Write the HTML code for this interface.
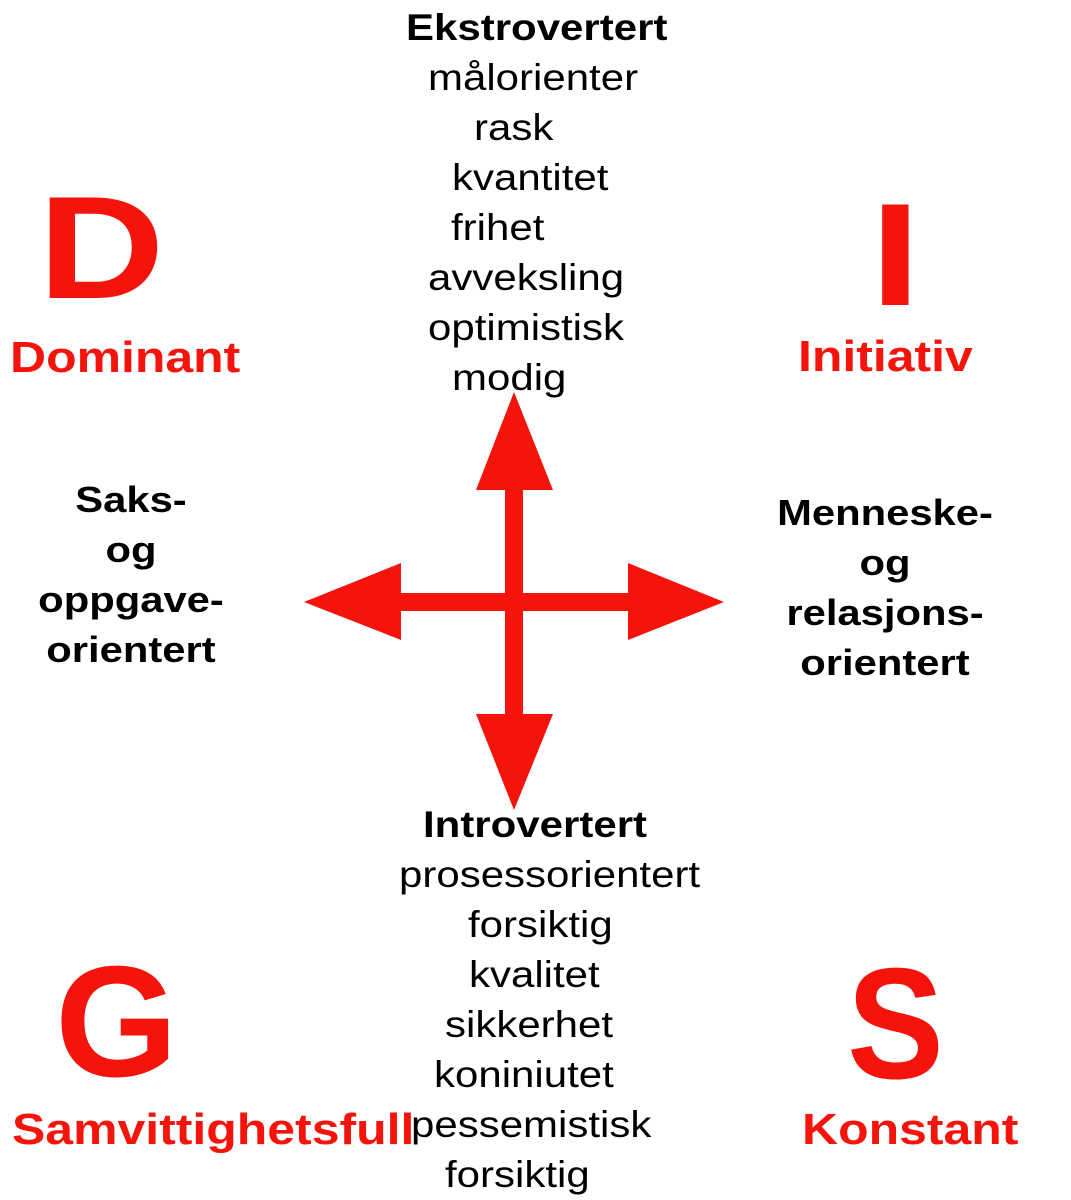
<!DOCTYPE html>
<html><head><meta charset="utf-8"><style>
body{margin:0;width:1071px;height:1198px;background:#fff;position:relative;overflow:hidden;font-family:"Liberation Sans",Arial,sans-serif}
.t{position:absolute;white-space:nowrap;font-size:37px;line-height:50px;color:#000;transform:scaleX(1.135);transform-origin:0 0}
.b{font-weight:bold}
.r{color:#f5140c;font-weight:bold}
.big{position:absolute;color:#f5140c;font-weight:bold;font-size:158px;line-height:158px;transform-origin:0 0}
.lab{position:absolute;font-weight:bold;font-size:36px;line-height:50px;text-align:center;color:#000;transform:scaleX(1.16);transform-origin:50% 0}
</style></head><body>
<div class="t b" style="left:406px;top:3px">Ekstrovertert</div>
<div class="t" style="left:428px;top:53px">målorienter</div>
<div class="t" style="left:474px;top:103px">rask</div>
<div class="t" style="left:452px;top:153px">kvantitet</div>
<div class="t" style="left:451px;top:203px">frihet</div>
<div class="t" style="left:428px;top:253px">avveksling</div>
<div class="t" style="left:428px;top:303px">optimistisk</div>
<div class="t" style="left:452px;top:353px">modig</div>

<div class="t b" style="left:423px;top:800px">Introvertert</div>
<div class="t" style="left:399px;top:850px">prosessorientert</div>
<div class="t" style="left:468px;top:900px">forsiktig</div>
<div class="t" style="left:469px;top:950px">kvalitet</div>
<div class="t" style="left:445px;top:1000px">sikkerhet</div>
<div class="t" style="left:434px;top:1050px">koniniutet</div>
<div class="t" style="left:411px;top:1100px">pessemistisk</div>
<div class="t" style="left:445px;top:1150px">forsiktig</div>

<div class="big" style="left:38px;top:175px;font-size:146px;line-height:146px;transform:scaleX(1.2)">D</div>
<div class="big" style="left:870px;top:182px;font-size:146px;line-height:146px;transform:scaleX(1.25)">I</div>
<div class="big" style="left:55px;top:943px">G</div>
<div class="big" style="left:847px;top:945px;transform:scaleX(0.92)">S</div>

<div class="t r" style="left:10px;top:333px;font-size:44px">Dominant</div>
<div class="t r" style="left:798px;top:332px;font-size:44px">Initiativ</div>
<div class="t r" style="left:12px;top:1105px;font-size:44px">Samvittighetsfull</div>
<div class="t r" style="left:802px;top:1105px;font-size:44px">Konstant</div>

<div class="lab" style="left:31px;top:475px;width:200px">Saks-<br>og<br>oppgave-<br>orientert</div>
<div class="lab" style="left:770px;top:488px;width:230px">Menneske-<br>og<br>relasjons-<br>orientert</div>

<svg style="position:absolute;left:0;top:0" width="1071" height="1198">
<g fill="#f5140c">
<rect x="505" y="486" width="18" height="231"/>
<rect x="399" y="593" width="231" height="18"/>
<polygon points="514,392 553,490 476,490"/>
<polygon points="514,810 553,714 476,714"/>
<polygon points="304,602 401,563 401,640"/>
<polygon points="724,602 628,563 628,640"/>
</g>
</svg>
</body></html>
